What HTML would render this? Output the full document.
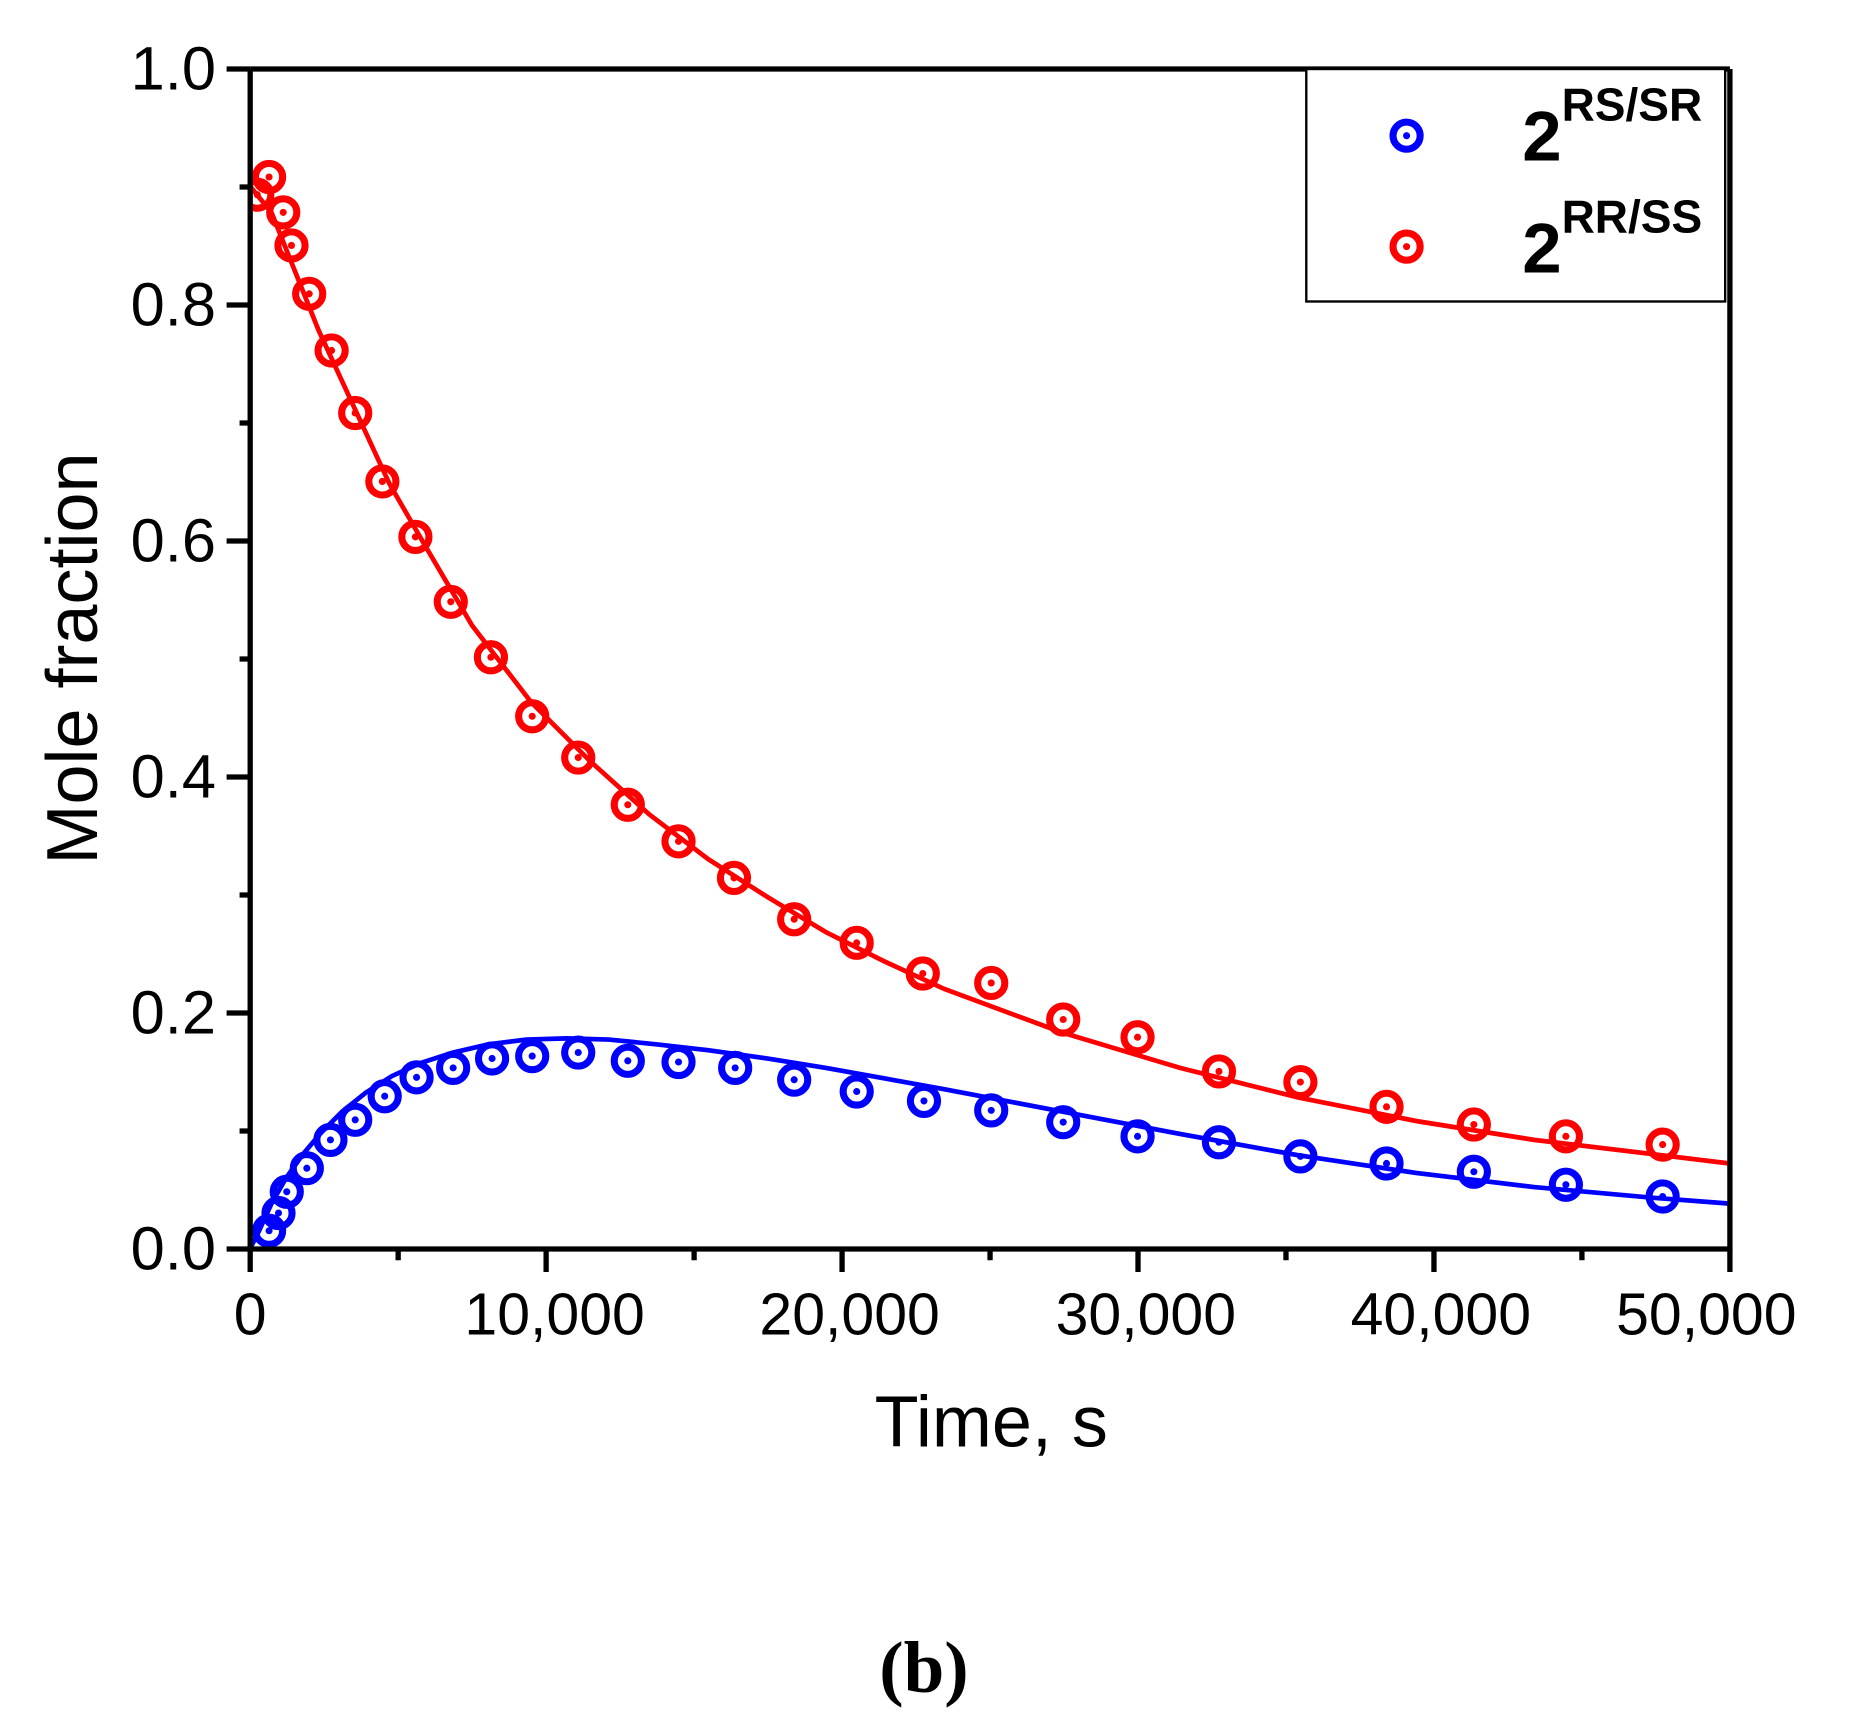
<!DOCTYPE html>
<html><head><meta charset="utf-8"><style>html,body{margin:0;padding:0;background:#fff}svg{display:block}</style></head>
<body>
<svg width="1851" height="1732" viewBox="0 0 1568.6 1467.8" xmlns="http://www.w3.org/2000/svg" font-family="Liberation Sans, Arial, sans-serif">
<rect width="1568.6" height="1467.8" fill="#fff"/>
<path fill="none" stroke="#f00" stroke-width="4" d="M212,158 L230,180 L250,230 L270,280 L300,345 L330,410 L360,462 L400,530 L450,595 L500,645 L550,690 L600,728 L650,760 L700,790 L750,815 L800,838 L900,875 L1000,905 L1100,930 L1200,950 L1300,966 L1400,978 L1466,986"/>
<path fill="none" stroke="#00f" stroke-width="4" d="M212,1058 L220,1042 L230,1020 L242,999 L256,979 L272,960 L290,942 L310,926 L332,912 L356,901 L384,892 L414,885 L446,881 L480,880 L516,881 L556,885 L600,890 L650,897 L700,905 L800,923 L900,942 L1000,961 L1100,979 L1200,994 L1300,1006 L1400,1015 L1466,1020"/>
<defs>
<g id="mr"><circle r="11.5" fill="none" stroke="#f00" stroke-width="6"/><circle r="3" fill="#f00"/></g>
<g id="mb"><circle r="11.5" fill="none" stroke="#00f" stroke-width="6"/><circle r="3" fill="#00f"/></g>
<clipPath id="cp"><rect x="212" y="58" width="1255" height="1001"/></clipPath>
</defs>
<g clip-path="url(#cp)">
<use href="#mr" x="218" y="165"/><use href="#mr" x="228" y="150"/><use href="#mr" x="240" y="180"/><use href="#mr" x="247" y="208"/><use href="#mr" x="262" y="249"/><use href="#mr" x="281" y="297"/><use href="#mr" x="301" y="350"/><use href="#mr" x="324" y="408"/><use href="#mr" x="352" y="455"/><use href="#mr" x="382" y="510"/><use href="#mr" x="416" y="557"/><use href="#mr" x="451" y="607"/><use href="#mr" x="490" y="642"/><use href="#mr" x="532" y="682"/><use href="#mr" x="575" y="713"/><use href="#mr" x="622" y="744"/><use href="#mr" x="673" y="779"/><use href="#mr" x="726" y="799"/><use href="#mr" x="782" y="825"/><use href="#mr" x="840" y="833"/><use href="#mr" x="901" y="864"/><use href="#mr" x="964" y="879"/><use href="#mr" x="1033" y="908"/><use href="#mr" x="1102" y="917"/><use href="#mr" x="1175" y="938"/><use href="#mr" x="1249" y="953"/><use href="#mr" x="1327" y="963"/><use href="#mr" x="1409" y="970"/>
<use href="#mb" x="228" y="1043"/><use href="#mb" x="236" y="1028"/><use href="#mb" x="243" y="1010"/><use href="#mb" x="260" y="990"/><use href="#mb" x="280" y="966"/><use href="#mb" x="301" y="949"/><use href="#mb" x="326" y="929"/><use href="#mb" x="353" y="913"/><use href="#mb" x="384" y="905"/><use href="#mb" x="417" y="897"/><use href="#mb" x="451" y="895"/><use href="#mb" x="490" y="892"/><use href="#mb" x="532" y="899"/><use href="#mb" x="575" y="900"/><use href="#mb" x="623" y="905"/><use href="#mb" x="673" y="915"/><use href="#mb" x="726" y="925"/><use href="#mb" x="783" y="933"/><use href="#mb" x="840" y="941"/><use href="#mb" x="901" y="951"/><use href="#mb" x="964" y="963"/><use href="#mb" x="1033" y="968"/><use href="#mb" x="1102" y="980"/><use href="#mb" x="1175" y="986"/><use href="#mb" x="1249" y="993"/><use href="#mb" x="1327" y="1004"/><use href="#mb" x="1409" y="1014"/>
</g>
<g stroke="#000" stroke-width="4.5" fill="none">
<path d="M212,58.5 H1466 M212,58.5 V1058.5 H1466 V58.5"/>
<path d="M192,58.5H212 M192,258.5H212 M192,458.5H212 M192,658.5H212 M192,858.5H212 M192,1058.5H212"/>
<path d="M203,158.5H212 M203,358.5H212 M203,558.5H212 M203,758.5H212 M203,958.5H212"/>
<path d="M212,1058.5V1078 M462.8,1058.5V1078 M713.6,1058.5V1078 M964.4,1058.5V1078 M1215.2,1058.5V1078 M1466,1058.5V1078"/>
<path d="M337.4,1058.5V1068 M588.2,1058.5V1068 M839,1058.5V1068 M1089.8,1058.5V1068 M1340.6,1058.5V1068"/>
</g>
<g font-size="52" text-anchor="end" fill="#000">
<text x="183" y="76">1.0</text><text x="183" y="276">0.8</text><text x="183" y="476">0.6</text><text x="183" y="676">0.4</text><text x="183" y="876">0.2</text><text x="183" y="1076">0.0</text>
</g>
<g font-size="50" text-anchor="middle" fill="#000">
<text x="212" y="1131">0</text><text x="470" y="1131">10,000</text><text x="720" y="1131">20,000</text><text x="971" y="1131">30,000</text><text x="1221" y="1131">40,000</text><text x="1446" y="1131">50,000</text>
</g>
<text x="840" y="1226" font-size="61" text-anchor="middle">Time, s</text>
<text transform="translate(82,558) rotate(-90)" font-size="61" text-anchor="middle">Mole fraction</text>
<text x="783" y="1434" font-size="62" font-weight="bold" text-anchor="middle" font-family="Liberation Serif, serif">(b)</text>
<rect x="1107" y="58.5" width="355" height="197" fill="#fff" stroke="#000" stroke-width="2"/>
<use href="#mb" x="1192" y="115"/><use href="#mr" x="1192" y="209"/>
<text x="1290" y="136" font-size="60" font-weight="bold">2<tspan font-size="39" dy="-34">RS/SR</tspan></text>
<text x="1290" y="231" font-size="60" font-weight="bold">2<tspan font-size="39" dy="-34">RR/SS</tspan></text>
</svg>
</body></html>
